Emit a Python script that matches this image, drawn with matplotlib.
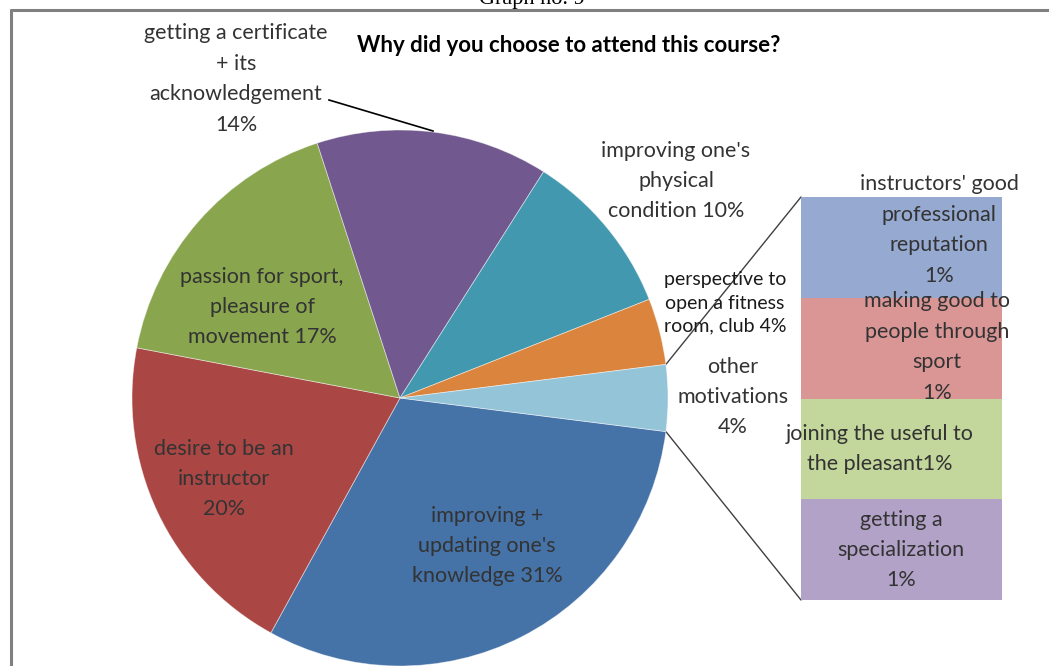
import matplotlib
matplotlib.use("Agg")
import matplotlib.pyplot as plt
from matplotlib.patches import ConnectionPatch
import numpy as np

# ---- data ----
main_labels = ["improving +\nupdating one's\nknowledge 31%",
               "desire to be an\ninstructor\n20%",
               "passion for sport,\npleasure of\nmovement 17%",
               "getting a certificate\n+ its\nacknowledgement\n14%",
               "improving one's\nphysical\ncondition 10%",
               "perspective to\nopen a fitness\nroom, club 4%"]
main_values = [31, 20, 17, 14, 10, 4]
other_label = "other\nmotivations\n4%"
other_labels = ["instructors' good\nprofessional\nreputation\n1%",
                "making good to\npeople through\nsport\n1%",
                "joining the useful to\nthe pleasant1%",
                "getting a\nspecialization\n1%"]
other_values = [1, 1, 1, 1]
title = "Why did you choose to attend this course?"
caption = "Graph no. 9"

# ---- styles ----
pie_colors = ['#4572A7', '#AA4643', '#89A54E', '#71588F', '#4198AF', '#DB843D', '#93C4D8']
bar_colors = ['#95A9D1', '#D99695', '#C3D69B', '#B2A2C7']
FONT = 'Lato'
TXT = '#333333'
W, H = 1049, 666

fig = plt.figure(figsize=(W / 100, H / 100), dpi=100)
ax = fig.add_axes([0, 0, 1, 1])
ax.set_zorder(2)
ax.patch.set_alpha(0)

def Y(y):
    return H - y

values = main_values + [sum(other_values)]
total = sum(values)
start = -180.0 * sum(other_values) / total
wedges, _ = ax.pie(values, colors=pie_colors, startangle=start, counterclock=False,
                   center=(400, Y(398)), radius=268, frame=True,
                   wedgeprops=dict(linewidth=0.6, edgecolor=(1, 1, 1, 0.5)))
ax.set_xlim(0, W)
ax.set_ylim(0, H)
ax.set_aspect('equal')
ax.axis('off')

# frame
ax.plot([10, W], [Y(9.5), Y(9.5)], color='#808080', lw=2.2, solid_capstyle='butt')
ax.plot([10.5, 10.5], [Y(9), 0], color='#808080', lw=2.2, solid_capstyle='butt')
ax.text(532, Y(4), caption, ha='center', va='baseline', fontsize=16,
        family='Liberation Serif', color='black')

# title
ax.text(569, Y(46), title, ha='center', va='center', fontsize=16, fontweight='bold',
        family=FONT, color='black')

fs = 15.5
ls = 1.65
label_pos = [(487, 546), (224, 479), (262, 307), (236, 79), (676, 181), (725, 303)]
for i, (lab, (x, y)) in enumerate(zip(main_labels, label_pos)):
    if i == 5:
        ax.text(x, Y(y), lab, ha='center', va='center', fontsize=14, family=FONT,
                color='#1a1a1a', linespacing=1.45)
    else:
        ax.text(x, Y(y), lab, ha='center', va='center', fontsize=fs, family=FONT,
                color=TXT, linespacing=ls)
ax.text(733, Y(397), other_label, ha='center', va='center', fontsize=fs, family=FONT,
        color=TXT, linespacing=ls)

# leader line for certificate label
ax.plot([329, 433], [Y(100), Y(131)], color='black', lw=1.2)

# ---- bar of pie ----
bx = fig.add_axes([801 / W, 66 / H, 201 / W, 403 / H])
bx.set_zorder(1)
n = len(other_values)
bottoms = [sum(other_values[i + 1:]) for i in range(n)]
bx.bar([0] * n, other_values, bottom=bottoms, width=1.0, color=bar_colors,
       linewidth=0, align='center')
bx.set_xlim(-0.5, 0.5)
bx.set_ylim(0, sum(other_values))
bx.axis('off')

bar_label_pos = [(939, 230), (937, 347), (880, 449), (901, 550)]
for lab, (x, y) in zip(other_labels, bar_label_pos):
    ax.text(x, Y(y), lab, ha='center', va='center', fontsize=fs, family=FONT,
            color=TXT, linespacing=ls, zorder=10)

# connectors
ow = wedges[-1]
cx, cy = ow.center
r = ow.r
for ang, by in [(ow.theta2, sum(other_values)), (ow.theta1, 0)]:
    px = cx + r * np.cos(np.radians(ang))
    py = cy + r * np.sin(np.radians(ang))
    con = ConnectionPatch(xyA=(px, py), coordsA=ax.transData,
                          xyB=(-0.5, by), coordsB=bx.transData,
                          color='#404040', lw=1.0)
    fig.add_artist(con)

fig.savefig('out.png', dpi=100)
